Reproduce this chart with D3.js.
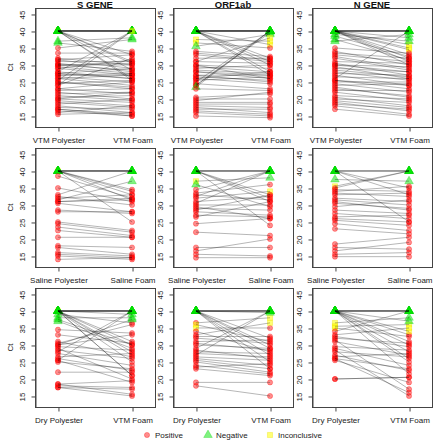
<!DOCTYPE html>
<html><head><meta charset="utf-8">
<script src="https://cdn.jsdelivr.net/npm/d3@7"></script>
<style>body{margin:0;background:#fff}svg{display:block;font-family:"Liberation Sans",Arial,sans-serif}</style>
</head><body><svg id="c" width="434" height="440"></svg>
<script>
// ---- data ----
const genes = ["S GENE", "ORF1ab", "N GENE"];
const rowCategories = [["VTM Polyester", "VTM Foam"], ["Saline Polyester", "Saline Foam"], ["Dry Polyester", "VTM Foam"]];
const yTicks = [15, 20, 25, 30, 35, 40, 45];
const legendLabels = ["Positive", "Negative", "Inconclusive"];
// each row: [left result, left Ct, right result, right Ct]   P=Positive N=Negative I=Inconclusive
const sGeneVtm = [
["N",40,"N",40],["N",40,"N",40],["N",40,"N",40],["N",40,"N",40],["N",40,"N",40],["N",40,"N",40],["I",40,"N",40],
["N",40,"P",31],["N",40,"P",26],["N",40,"P",28.5],["N",40,"P",30.5],["N",40,"P",33],["N",40,"P",25.5],
["N",36.5,"P",34],["N",37,"N",38],["P",35,"N",37.5],["P",33.5,"P",33.5],["P",32,"P",30],["P",31.5,"P",29],["P",31,"P",31],
["P",30.5,"P",28],["P",30,"P",30.5],["P",30,"P",30],["P",29.5,"P",27.5],["P",29,"P",27],["P",28,"N",40],["P",27.5,"P",26],
["P",27,"P",27.5],["P",27,"P",27],["P",26.5,"P",25],["P",26,"P",24],["P",25.5,"N",40],["P",25,"P",23.5],["P",24.5,"P",25.5],
["P",24,"I",40],["P",24,"P",32],["P",23,"P",21.5],["P",22.5,"P",23],["P",22,"P",20],["P",21.5,"P",22],["P",21,"P",19.5],
["P",20.5,"P",21],["P",20,"P",19],["P",19.5,"P",18],["P",19,"P",17.5],["P",18.5,"P",20],["P",18,"P",16],["P",17.5,"P",17],
["P",17,"P",15.5],["P",16.5,"P",15],["P",16,"P",18],["P",15.5,"P",16],["P",30,"P",28.5],["P",28,"P",26],["P",26,"P",27],
["P",31.5,"P",33],["P",25,"P",23],["P",23,"P",25],["P",20,"P",22],["P",17,"P",15],["P",29,"P",31.5],["P",27.5,"P",29]];
const orf1abVtm = [
["N",40,"N",40],["N",40,"N",40],["N",40,"N",40],["N",40,"N",40],["N",40,"N",40],["N",40,"N",40],["N",40,"N",40],
["N",40,"P",32],["N",40,"P",30],["N",40,"P",28],["N",40,"P",27],["N",40,"P",31],["N",40,"I",36],
["I",37.5,"I",37],["I",36.5,"P",35],["N",35.5,"N",39],["P",34,"P",32.5],["P",33,"P",31],["P",31,"P",30.5],["P",30,"P",29],
["P",29.5,"P",28],["P",29,"P",30],["P",28.5,"P",27.5],["P",28,"P",26],["P",27,"P",27],["P",26.5,"P",25.5],["P",26,"P",24.5],
["P",25.5,"P",26.5],["P",25,"N",40],["P",24.5,"P",23],["P",24,"N",40],["P",24,"N",39.5],["N",23.5,"N",40],
["P",20.5,"P",21.5],["P",20,"P",20],["P",19.5,"P",22],["P",19,"P",19],["P",18.5,"P",18.5],["P",18,"P",17.5],["P",17.5,"P",16],
["P",17,"P",17],["P",16.5,"P",15.5],["P",16,"P",15],["P",15,"P",14.5],["P",30,"P",26],["P",28,"P",27],["P",27,"P",25],
["P",32,"P",32],["P",26,"P",28],["P",33.5,"P",31.5],["P",23,"P",22.5],["P",31,"I",38]];
const nGeneVtm = [
["N",40,"N",40],["N",40,"N",40],["N",40,"N",40],["N",40,"N",40],["N",40,"N",40],["N",40,"N",40],
["N",40,"I",36],["N",40,"I",35],["N",40,"P",33],["N",40,"P",31],["N",40,"P",30],["N",40,"I",34.5],["N",40,"P",32],["N",40,"N",38],
["N",39,"N",37],["N",38.5,"P",32.5],["N",37.5,"P",31.5],["N",37,"N",39],["P",35,"P",33.5],["P",34,"P",30],["P",33,"P",31],
["P",32.5,"P",29],["P",32,"P",28.5],["P",31,"P",30.5],["P",30.5,"P",27],["P",30,"P",29.5],["P",29.5,"P",26],["P",29,"P",28],
["P",28,"P",25.5],["P",27.5,"P",27],["P",27,"P",24],["P",26.5,"P",26],["P",26,"N",40],["P",25.5,"P",23],["P",25,"P",25],
["P",24.5,"P",22],["P",24,"P",24.5],["P",23,"P",21],["P",22.5,"P",22.5],["P",22,"P",19.5],["P",21,"P",20],["P",20.5,"P",18],
["P",20,"P",19],["P",19,"P",16.5],["P",18.5,"P",17],["P",18,"P",15.5],["P",17,"P",15],["P",30,"P",28],["P",28.5,"P",26.5],
["P",25.5,"P",24],["P",23.5,"P",20.5],["P",19.5,"P",17.5],["P",33.5,"P",32]];
const sGeneSaline = [
["N",40,"N",40],["N",40,"N",40],["N",40,"N",40],["N",40,"N",40],["I",40,"N",40],
["N",40,"P",34.5],["N",40,"P",34],["N",40,"P",33],["N",40,"P",31.5],["N",40,"P",25],
["P",38.5,"P",32],["P",35,"P",31],["P",33,"N",40],["P",32.5,"P",30],["P",31.5,"N",37],["P",31,"P",31.5],["P",30.5,"P",28],
["P",28.5,"P",27.5],["P",28,"P",28],["P",25,"P",22.5],["P",24.5,"P",22],["P",23.5,"P",21],["P",22.5,"P",20.5],["P",20.5,"P",20.5],
["P",18,"P",17.5],["P",17.5,"P",15.5],["P",16,"P",15],["P",15.5,"P",14.5],["P",15,"P",14],["P",14,"P",14.5],["P",32,"P",33],["P",31,"P",32]];
const orf1abSaline = [
["N",40,"N",40],["N",40,"N",40],["N",40,"N",40],["N",40,"N",40],
["N",40,"P",33],["N",40,"P",31],["N",40,"P",24],["N",40,"P",32],["I",37,"N",38],["N",36,"P",29.5],
["P",34.5,"N",40],["P",33.5,"P",36],["P",32.5,"N",40],["P",32,"I",34],["P",31,"P",32.5],["P",30.5,"N",40],["P",30,"P",30],
["P",29,"P",28.5],["P",28,"P",27],["P",27,"P",26.5],["P",26.5,"P",31],["P",24.5,"P",26],["P",22,"P",21],["P",17.5,"P",17.5],
["P",16.5,"P",20],["P",15.5,"P",15],["P",14.5,"P",14.5],["P",33,"P",31.5],["P",29.5,"P",26],["P",28.5,"P",33]];
const nGeneSaline = [
["N",40,"N",40],["N",40,"N",40],["N",40,"N",40],["N",40,"P",25],["N",40,"P",35],["N",40,"P",33],
["N",37.5,"N",37],["I",35.5,"N",40],["P",35,"N",40],["P",34.5,"P",34],["P",34,"P",35.5],["P",33.5,"P",32.5],["P",33,"P",33.5],
["P",32,"P",31],["P",31.5,"P",30],["P",30.5,"P",29],["P",29.5,"P",31.5],["P",28.5,"P",27.5],["P",27.5,"P",26],["P",26.5,"P",27],
["P",25.5,"P",24],["P",24.5,"P",22.5],["P",23,"P",21.5],["P",18.5,"P",20.5],["P",17.5,"P",17],["P",16.5,"P",19],["P",15.5,"P",16],
["P",14.8,"P",14.8],["P",31,"P",28.5],["P",26,"P",25]];
const sGeneDry = [
["N",40,"N",40],["N",40,"N",40],["N",40,"N",40],["N",40,"N",40],["N",40,"N",40],["N",40,"N",40],["I",40,"N",39],
["N",40,"P",31],["N",40,"P",28],["N",40,"P",27],["N",40,"P",21],["N",40,"P",21],["N",40,"P",25],["N",39,"P",36.5],
["N",38,"N",38],["N",37.5,"P",30],["N",37,"P",29],["P",34.5,"P",33.5],["P",33,"P",30.5],["P",31,"P",26.5],["P",30.5,"P",36],
["P",30,"N",37.5],["P",29.5,"P",28.5],["P",28.5,"P",26],["P",28,"N",40],["P",27.5,"P",24],["P",26.5,"P",27.5],["P",25.5,"N",40],
["P",25,"P",23],["P",22,"P",22],["P",18.5,"P",19.5],["P",18,"P",17.5],["P",17.5,"P",17],["P",30,"P",33],["P",29,"P",20],
["P",26,"P",22.5],["P",25.5,"P",19],["P",18.5,"P",15.5],["P",17.5,"P",15],["N",40,"P",30]];
const orf1abDry = [
["N",40,"N",40],["N",40,"N",40],["N",40,"N",40],["N",40,"N",40],["N",40,"N",40],
["N",40,"P",30],["N",40,"P",27],["N",40,"P",23],["N",40,"P",29],["N",40,"P",25],["N",40,"P",32],
["P",36.5,"I",38],["I",36,"P",31],["I",35,"P",35],["P",34,"P",28],["P",32.5,"P",32.5],["P",32,"P",30.5],["P",31,"P",31.5],
["P",30.5,"P",28.5],["P",30,"P",29],["P",29,"N",40],["P",28.5,"P",26],["P",28,"P",27.5],["P",27,"N",40],["P",26.5,"P",25.5],
["P",26,"P",24],["P",25,"P",22],["P",24,"P",21.5],["P",23.5,"P",24.5],["P",23,"P",21],["P",19,"P",19],["P",18,"P",15],
["P",33,"I",36.5],["P",27.5,"P",26.5],["N",40,"N",39.5],["P",25.5,"P",23]];
const nGeneDry = [
["N",40,"N",40],["N",40,"N",40],["N",40,"N",40],["N",40,"N",40],["N",40,"N",40],
["N",40,"P",33],["N",40,"P",31],["N",40,"P",28],["N",40,"P",26],["N",40,"P",21.5],["N",40,"P",30],["N",40,"P",25],
["I",36.5,"N",38],["I",35.5,"I",36],["I",35,"P",32.5],["P",34,"N",40],["P",32.5,"P",29.5],["P",32,"P",30.5],["P",31,"P",27],
["P",29.5,"P",28.5],["P",29,"P",24],["P",28,"P",26.5],["P",27,"P",22.5],["P",26.5,"P",27.5],["P",26,"P",23],["P",25.5,"P",19],
["P",20,"P",20.5],["P",20,"P",20.5],["P",31.5,"P",17],["P",28.5,"P",15],["P",26,"P",16],["N",40,"N",37],["N",40,"I",34],["P",33,"I",35]];
const panelData = [[sGeneVtm, orf1abVtm, nGeneVtm], [sGeneSaline, orf1abSaline, nGeneSaline], [sGeneDry, orf1abDry, nGeneDry]];

// ---- layout ----
const svg = d3.select("#c");
const colLeft = [35, 173, 312], boxW = 120, rowTop = [8, 148, 288], boxH = 119;
const fill = {P: "rgba(255,0,0,0.45)", N: "rgba(0,230,0,0.5)", I: "rgba(255,255,0,0.55)"};
const stroke = {P: "rgba(255,0,0,0.5)", N: "rgba(0,210,0,0.5)", I: "rgba(235,225,0,0.6)"};
const triangle = d3.symbol().type(d3.symbolTriangle).size(32);
const square = d3.symbol().type(d3.symbolSquare).size(26);

function drawMark(g, res, x, y) {
  if (res === "P") {
    g.append("circle").attr("cx", x).attr("cy", y).attr("r", 2.6)
      .attr("fill", fill.P).attr("stroke", stroke.P).attr("stroke-width", 0.6);
  } else {
    g.append("path").attr("d", res === "N" ? triangle() : square())
      .attr("transform", `translate(${x},${y})`)
      .attr("fill", fill[res]).attr("stroke", stroke[res]).attr("stroke-width", 0.6);
  }
}

for (let r = 0; r < 3; r++) {
  for (let c = 0; c < 3; c++) {
    const L = colLeft[c], T = rowTop[r];
    const x = d3.scaleLinear().domain([0.69, 2.31]).range([L, L + boxW]);
    const y = d3.scaleLinear().domain([11.76, 46.76]).range([T + boxH, T]);
    const g = svg.append("g");
    g.append("rect").attr("x", L + 0.5).attr("y", T + 0.5).attr("width", boxW).attr("height", boxH)
      .attr("fill", "none").attr("stroke", "#444").attr("stroke-width", 1);
    const xa = g.append("g").attr("transform", `translate(0.5,${T + boxH + 0.5})`)
      .call(d3.axisBottom(x).tickValues([1, 2]).tickSize(4).tickPadding(6)
        .tickFormat((d, i) => rowCategories[r][i]));
    xa.select(".domain").remove();
    xa.selectAll("line").attr("stroke", "#444");
    xa.selectAll("text").attr("font-size", 8).attr("fill", "#222")
      .attr("font-family", "'Liberation Sans',Arial,sans-serif");
    const ya = g.append("g").attr("transform", `translate(${L + 0.5},0.5)`)
      .call(d3.axisLeft(y).tickValues(yTicks).tickSize(4).tickSizeOuter(0));
    ya.select(".domain").attr("stroke", "#444");
    ya.selectAll("line").attr("stroke", "#444");
    ya.selectAll("text").attr("font-size", 8).attr("fill", "#222")
      .attr("font-family", "'Liberation Sans',Arial,sans-serif")
      .attr("text-anchor", "middle").attr("dy", null).attr("dominant-baseline", "central")
      .attr("x", null).attr("transform", "translate(-13,0) rotate(-90)");
    if (c === 0) {
      svg.append("text").attr("x", 10).attr("y", T + boxH / 2).attr("font-size", 8).attr("fill", "#222")
        .attr("text-anchor", "middle").attr("dominant-baseline", "central")
        .attr("transform", `rotate(-90,10,${T + boxH / 2})`).text("Ct");
    }
    if (r === 0) {
      svg.append("text").attr("x", L + boxW / 2).attr("y", 8).attr("font-size", 9.5).attr("font-weight", "bold")
        .attr("fill", "#111").attr("text-anchor", "middle").text(genes[c]);
    }
    const data = panelData[r][c];
    const pts = g.append("g");
    data.forEach(d => { drawMark(pts, d[0], x(1), y(d[1])); drawMark(pts, d[2], x(2), y(d[3])); });
    g.append("g").selectAll("line").data(data).join("line")
      .attr("x1", x(1)).attr("x2", x(2)).attr("y1", d => y(d[1])).attr("y2", d => y(d[3]))
      .attr("stroke", "rgba(0,0,0,0.32)").attr("stroke-width", 0.9);
  }
}

// legend
const lg = svg.append("g");
const legX = [147, 208, 270], legY = 435, codes = ["P", "N", "I"];
legendLabels.forEach((lab, i) => {
  drawMark(lg, codes[i], legX[i], legY);
  lg.append("text").attr("x", legX[i] + 8).attr("y", legY).attr("dominant-baseline", "central")
    .attr("font-size", 8).attr("fill", "#222").text(lab);
});
</script></body></html>
